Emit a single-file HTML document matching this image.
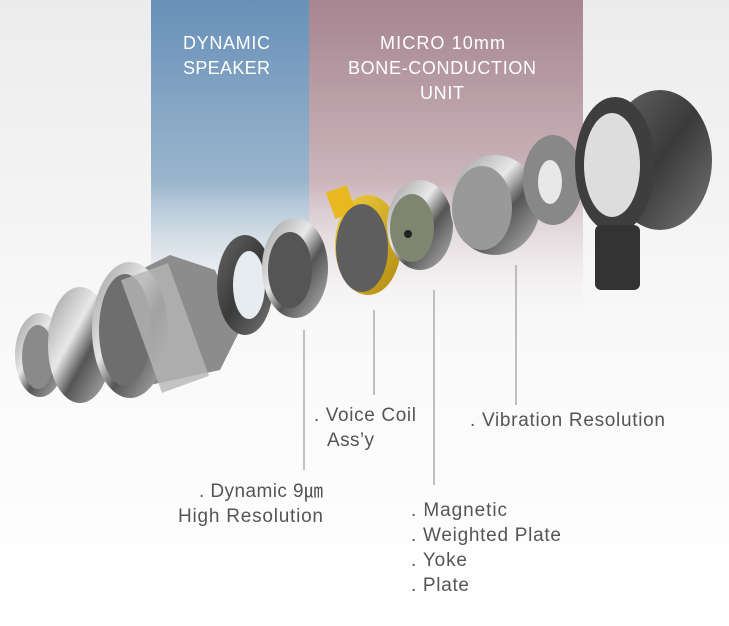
<!DOCTYPE html>
<html><head><style>
body{margin:0;width:729px;height:621px;overflow:hidden;background:#fff;font-family:"Liberation Sans",sans-serif}
</style></head><body>
<svg width="729" height="621" viewBox="0 0 729 621" xmlns="http://www.w3.org/2000/svg">
<defs>
<linearGradient id="bg" x1="0" y1="0" x2="0" y2="1"><stop offset="0" stop-color="#ececec"/><stop offset="0.6" stop-color="#fafafa"/><stop offset="1" stop-color="#fff"/></linearGradient>
<linearGradient id="bl" x1="0" y1="0" x2="0" y2="1"><stop offset="0" stop-color="#6890b9"/><stop offset="0.55" stop-color="#9ab5cc"/><stop offset="1" stop-color="#fafafa" stop-opacity="0"/></linearGradient>
<linearGradient id="pk" x1="0" y1="0" x2="0" y2="1"><stop offset="0" stop-color="#a6858f"/><stop offset="0.55" stop-color="#cbb5bb"/><stop offset="1" stop-color="#fafafa" stop-opacity="0"/></linearGradient>
<linearGradient id="met" x1="0" y1="0" x2="1" y2="1"><stop offset="0" stop-color="#9a9a9a"/><stop offset="0.4" stop-color="#e8e8e8"/><stop offset="0.6" stop-color="#555"/><stop offset="1" stop-color="#bbb"/></linearGradient>
<linearGradient id="dk" x1="0" y1="0" x2="1" y2="1"><stop offset="0" stop-color="#666"/><stop offset="0.5" stop-color="#3a3a3a"/><stop offset="1" stop-color="#777"/></linearGradient>
<linearGradient id="gd" x1="0" y1="0" x2="1" y2="1"><stop offset="0" stop-color="#f3d040"/><stop offset="1" stop-color="#b08a10"/></linearGradient>
</defs>
<rect width="729" height="621" fill="url(#bg)"/>
<rect x="151" y="0" width="158" height="330" fill="url(#bl)"/>
<rect x="309" y="0" width="274" height="330" fill="url(#pk)"/>
<g fill="#fff" font-size="18">
<text x="183" y="49" textLength="87">DYNAMIC</text><text x="183" y="74" textLength="87">SPEAKER</text>
<text x="380" y="49" textLength="125">MICRO 10mm</text><text x="348" y="74" textLength="188">BONE-CONDUCTION</text><text x="420" y="99" textLength="44">UNIT</text>
</g>
<!-- parts -->
<ellipse cx="40" cy="355" rx="25" ry="42" fill="url(#met)"/>
<ellipse cx="38" cy="357" rx="16" ry="32" fill="#8a8a8a"/>
<ellipse cx="80" cy="345" rx="32" ry="58" fill="url(#met)"/>
<path d="M100 290 L170 255 L215 270 L240 330 L220 370 L150 385 L110 380 Z" fill="#8c8c8c"/>
<ellipse cx="130" cy="330" rx="38" ry="68" fill="url(#met)"/>
<ellipse cx="125" cy="330" rx="26" ry="56" fill="#6e6e6e"/>
<rect x="140" y="268" width="50" height="120" fill="#b5b5b5" opacity="0.8" transform="rotate(-20 165 328)"/>
<ellipse cx="245" cy="285" rx="28" ry="50" fill="url(#dk)"/>
<ellipse cx="249" cy="285" rx="16" ry="34" fill="#e6ecf0"/>
<ellipse cx="295" cy="268" rx="33" ry="50" fill="url(#met)"/>
<ellipse cx="290" cy="270" rx="22" ry="38" fill="#555"/>
<ellipse cx="368" cy="245" rx="33" ry="50" fill="url(#gd)"/>
<rect x="330" y="188" width="22" height="28" fill="#e8b820" transform="rotate(-20 341 202)"/>
<ellipse cx="362" cy="248" rx="26" ry="44" fill="#5e5e5e"/>
<ellipse cx="420" cy="225" rx="33" ry="45" fill="url(#met)"/>
<ellipse cx="412" cy="228" rx="22" ry="34" fill="#7f8670"/>
<circle cx="408" cy="234" r="4" fill="#222"/>
<ellipse cx="495" cy="205" rx="45" ry="50" fill="url(#met)"/>
<ellipse cx="482" cy="208" rx="30" ry="42" fill="#999"/>
<ellipse cx="553" cy="180" rx="30" ry="45" fill="#888"/>
<ellipse cx="550" cy="182" rx="12" ry="22" fill="#e8e8e8"/>
<ellipse cx="660" cy="160" rx="52" ry="70" fill="url(#dk)"/>
<ellipse cx="615" cy="165" rx="40" ry="68" fill="#3e3e3e"/>
<ellipse cx="612" cy="165" rx="28" ry="52" fill="#ddd"/>
<rect x="595" y="225" width="45" height="65" fill="#333" rx="6"/>
<!-- lines -->
<g stroke="#999" stroke-width="1.2">
<line x1="374" y1="310" x2="374" y2="395"/>
<line x1="434" y1="290" x2="434" y2="485"/>
<line x1="516" y1="265" x2="516" y2="405"/>
<line x1="304" y1="330" x2="304" y2="470"/>
</g>
<g fill="#555" font-size="19">
<text x="314" y="421" textLength="102">. Voice Coil</text><text x="327" y="446" textLength="47">Ass’y</text>
<text x="470" y="426" textLength="195">. Vibration Resolution</text>
<text x="199" y="497" textLength="124">. Dynamic 9㎛</text><text x="178" y="522" textLength="145">High Resolution</text>
<text x="411" y="516" textLength="96">. Magnetic</text><text x="411" y="541" textLength="150">. Weighted Plate</text><text x="411" y="566" textLength="56">. Yoke</text><text x="411" y="591" textLength="58">. Plate</text>
</g>
</svg>
</body></html>
